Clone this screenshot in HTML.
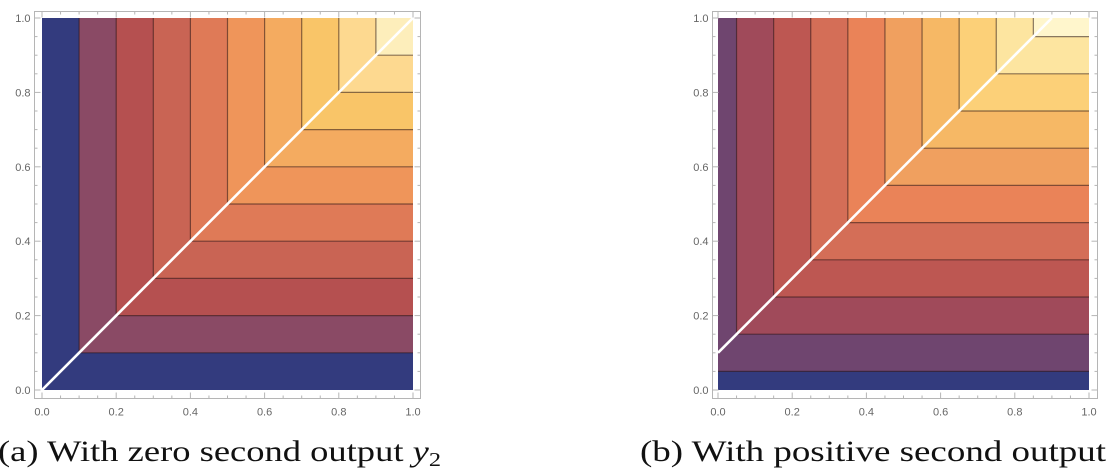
<!DOCTYPE html>
<html><head><meta charset="utf-8"><style>
html,body{margin:0;padding:0;background:#fff;}
svg{display:block;}
</style></head><body>
<svg id="root" width="1107" height="474" viewBox="0 0 1107 474">
<g id="plotA"></g>
<g id="plotB"></g>
<text x="-2" y="461" font-family="Liberation Serif, serif" font-size="30" fill="#111" textLength="443" lengthAdjust="spacingAndGlyphs">(a) With zero second output <tspan font-style="italic">y</tspan><tspan font-size="20" dy="5">2</tspan></text>
<text x="640" y="461" font-family="Liberation Serif, serif" font-size="30" fill="#111" textLength="466" lengthAdjust="spacingAndGlyphs">(b) With positive second output</text>
</svg>
<script>
// Plot A: value = min(x, y); band lower thresholds
const bandsA = [0, 0.1, 0.2, 0.3, 0.4, 0.5, 0.6, 0.7, 0.8, 0.9];
const colorsA = ["#333b7e","#8a4a65","#b55050","#c96454","#df7a57","#ef955a","#f4ab60","#f9c568","#fdd990","#fdeebb"];
const shiftA = 0;   // second output y2
// Plot B: value = min(x + y2, y)
const bandsB = [0, 0.05, 0.15, 0.25, 0.35, 0.45, 0.55, 0.65, 0.75, 0.85, 0.95];
const colorsB = ["#333b7e","#6f456f","#a04a5a","#bd5752","#d46e57","#ea8358","#f0a05f","#f6b865","#fcd078","#fde5a0","#fff6cc"];
const shiftB = 0.1;
const ticks = [0, 0.2, 0.4, 0.6, 0.8, 1.0];
const tickLabels = ["0.0","0.2","0.4","0.6","0.8","1.0"];
const minorTicks = [0.05,0.1,0.15,0.25,0.3,0.35,0.45,0.5,0.55,0.65,0.7,0.75,0.85,0.9,0.95];

const NS = "http://www.w3.org/2000/svg";
function mk(parent, tag, attrs){
  const e = document.createElementNS(NS, tag);
  for (const k in attrs) e.setAttribute(k, attrs[k]);
  parent.appendChild(e);
  return e;
}
function drawPlot(g, x0, x1, y0, y1, bands, colors, shift, frame){
  const sx = v => x0 + (x1 - x0) * v;
  const sy = v => y0 - (y0 - y1) * v;
  const clamp = v => Math.max(0, Math.min(1, v));
  const fr = mk(g, "rect", {x: frame[0], y: frame[1], width: frame[2]-frame[0], height: frame[3]-frame[1], fill: "none", stroke: "#b5b5b5", "stroke-width": 1});
  
  
  bands.forEach((b, i) => {
    const xl = clamp(b - shift), yl = clamp(b);
    const r = mk(g, "rect", {x: sx(xl), y: sy(1), width: sx(1) - sx(xl), height: sy(yl) - sy(1), fill: colors[i]});
    
    
  });
  bands.forEach((b, i) => {
    if (i === 0) return;
    const xl = clamp(b - shift), yl = clamp(b);
    if (b - shift > 0) {
      const l = mk(g, "line", {x1: sx(xl), y1: sy(yl), x2: sx(xl), y2: sy(1), stroke: "rgba(40,20,20,0.55)", "stroke-width": 1.2});
      
      
    }
    const h = mk(g, "line", {x1: sx(xl), y1: sy(yl), x2: sx(1), y2: sy(yl), stroke: "rgba(40,20,20,0.55)", "stroke-width": 1.2});
    
    
  });
  const d = mk(g, "line", {x1: sx(0), y1: sy(shift), x2: sx(1 - shift), y2: sy(1), stroke: "#fff", "stroke-width": 2.6});
  
  
  const tk = (xa, ya, xb, yb, nm) => {
    const t = mk(g, "line", {x1: xa, y1: ya, x2: xb, y2: yb, stroke: "#b5b5b5", "stroke-width": 1});
    
    
  };
  ticks.forEach((v, i) => {
    tk(sx(v), frame[3], sx(v), frame[3]-6, 'x-tick');
    tk(sx(v), frame[1], sx(v), frame[1]+6, 'x-tick-top');
    tk(frame[0], sy(v), frame[0]+6, sy(v), 'y-tick');
    tk(frame[2], sy(v), frame[2]-6, sy(v), 'y-tick-right');
    const tx = mk(g, "text", {x: sx(v), y: frame[3]+17, "text-anchor": "middle", "font-family": "Liberation Sans, sans-serif", "font-size": 11, fill: "#666"});
    tx.textContent = tickLabels[i];
    
    
    const ty = mk(g, "text", {x: frame[0]-4, y: sy(v)+4, "text-anchor": "end", "font-family": "Liberation Sans, sans-serif", "font-size": 11, fill: "#666"});
    ty.textContent = tickLabels[i];
    
    
  });
  minorTicks.forEach(v => {
    tk(sx(v), frame[3], sx(v), frame[3]-3, 'x-minor-tick');
    tk(sx(v), frame[1], sx(v), frame[1]+3, 'x-minor-tick-top');
    tk(frame[0], sy(v), frame[0]+3, sy(v), 'y-minor-tick');
    tk(frame[2], sy(v), frame[2]-3, sy(v), 'y-minor-tick-right');
  });
}
drawPlot(document.getElementById("plotA"), 42, 413, 390, 18, bandsA, colorsA, shiftA, [34.5, 11.5, 420.5, 398.5]);
drawPlot(document.getElementById("plotB"), 718, 1089, 390, 18, bandsB, colorsB, shiftB, [712.5, 11.5, 1097.5, 398.5]);
</script>
</body></html>
